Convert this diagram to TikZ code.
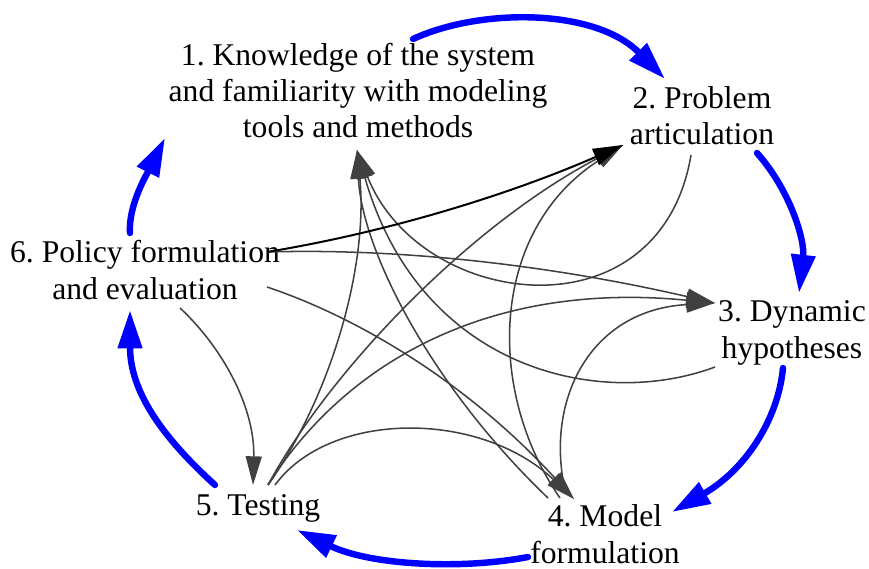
\documentclass[tikz,border=0pt]{standalone}
\usepackage{fontspec}
\setmainfont{Liberation Serif}
\usetikzlibrary{arrows.meta}
\definecolor{linkgray}{HTML}{404040}
\definecolor{cycleblue}{HTML}{0000FF}
\frenchspacing
\begin{document}
\begin{tikzpicture}[x=0.03cm,y=-0.03cm,
  stage/.style={inner sep=0pt, align=center, anchor=base,
    font=\fontsize{27}{31}\selectfont},
  link/.style={draw=linkgray, line width=1.3pt,
    -{Triangle[length=0.86cm,width=0.48cm,fill=linkgray]}},
  keylink/.style={draw=black, line width=1.7pt,
    -{Triangle[length=0.9cm,width=0.52cm,fill=black]}},
  cyclelink/.style={draw=cycleblue, line width=5.5pt, line cap=round,
    -{Triangle[length=1.15cm,width=0.7cm,fill=cycleblue]}}]
\useasboundingbox (0,0) rectangle (869,569);

% stages of the modelling process (placed by the baseline of their last line)
\node[stage] (s1) at (358,138) {1. Knowledge of the system\\and familiarity with modeling\\tools and methods};
\node[stage] (s2) at (702,145) {2. Problem\\articulation};
\node[stage] (s3) at (792,358) {3. Dynamic\\hypotheses};
\node[stage] (s4) at (605,563) {4. Model\\formulation};
\node[stage] (s5) at (258,515) {5. Testing};
\node[stage] (s6) at (145,299) {6. Policy formulation\\and evaluation};

% ports where the feedback links meet the stages
\coordinate (in1) at (357,150);
\coordinate (in2) at (623,145);
\coordinate (in3) at (715,303);
\coordinate (in4) at (574,499);
\coordinate (in5) at (253,485);
\coordinate (out2) at (691,155);
\coordinate (out3) at (715,367);
\coordinate (out4a) at (548,498);
\coordinate (out4b) at (560,498);
\coordinate (out4c) at (565,490);
\coordinate (out5a) at (268,485);
\coordinate (out5b) at (275,485);
\coordinate (out6a) at (267,252);
\coordinate (out6b) at (267,287);
\coordinate (out6c) at (180,308);

% ports of the main cycle
\coordinate (c1a) at (413,39);   \coordinate (c1b) at (665,79);
\coordinate (c2a) at (757,153);  \coordinate (c2b) at (799,293);
\coordinate (c3a) at (783,368);  \coordinate (c3b) at (672,512);
\coordinate (c4a) at (528,557);  \coordinate (c4b) at (297,530);
\coordinate (c5a) at (215,485);  \coordinate (c5b) at (130,310);
\coordinate (c6a) at (130,233);  \coordinate (c6b) at (165,138);

% feedback links between stages
\draw[link] (out6a) .. controls (400,248) and (550,265) .. (in3);
\draw[link] (out6b) .. controls (360,318) and (470,385) .. (in4);
\draw[link] (out6c) .. controls (225,350) and (255,410) .. (in5);
\draw[link] (out5a) .. controls (335,390) and (368,260) .. (in1);
\draw[link] (out5a) .. controls (330,370) and (470,225) .. (in2);
\draw[link] (out5a) .. controls (340,370) and (480,280) .. (in3);
\draw[link] (out5b) .. controls (330,410) and (480,410) .. (in4);
\draw[link] (out4a) .. controls (430,385) and (362,250) .. (in1);
\draw[link] (out4b) .. controls (485,390) and (490,230) .. (in2);
\draw[link] (out4c) .. controls (545,400) and (590,310) .. (in3);
\draw[link] (out3) .. controls (600,410) and (420,370) .. (in1);
\draw[link] (out2) .. controls (660,340) and (420,310) .. (in1);
\draw[keylink] (out6a) .. controls (400,230) and (520,190) .. (in2);

% main cycle
\draw[cyclelink] (c1a) .. controls (480,8) and (595,8) .. (c1b);
\draw[cyclelink] (c2a) .. controls (790,190) and (805,240) .. (c2b);
\draw[cyclelink] (c3a) .. controls (778,420) and (745,470) .. (c3b);
\draw[cyclelink] (c4a) .. controls (460,570) and (370,565) .. (c4b);
\draw[cyclelink] (c5a) .. controls (160,435) and (130,390) .. (c5b);
\draw[cyclelink] (c6a) .. controls (128,205) and (148,172) .. (c6b);
\end{tikzpicture}
\end{document}
